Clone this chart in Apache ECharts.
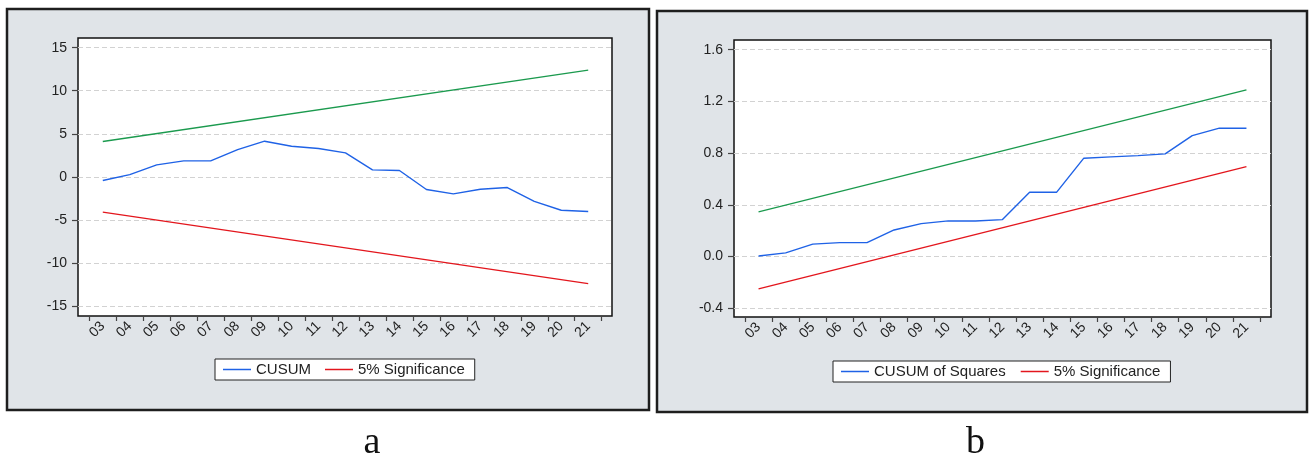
<!DOCTYPE html>
<html>
<head>
<meta charset="utf-8">
<script src="https://cdn.jsdelivr.net/npm/echarts@6/dist/echarts.min.js"></script>
<style>
  body { margin: 0; background: #fff; }
  #chart { width: 1309px; height: 457px; }
</style>
</head>
<body>
<div id="chart"></div>
<script>
// years on the x axis (20xx)
const years = ["03", "04", "05", "06", "07", "08", "09", "10", "11", "12",
  "13", "14", "15", "16", "17", "18", "19", "20", "21"];

// panel a: CUSUM and its 5% bounds (bounds are straight lines, read at both ends)
const cusum = [-0.43, 0.26, 1.39, 1.86, 1.86, 3.17, 4.14, 3.56, 3.29, 2.79,
  0.81, 0.74, -1.47, -1.98, -1.44, -1.24, -2.84, -3.88, -4.03];
const cusumUpper = [4.1, null, null, null, null, null, null, null, null, null,
  null, null, null, null, null, null, null, null, 12.4];
const cusumLower = [-4.1, null, null, null, null, null, null, null, null, null,
  null, null, null, null, null, null, null, null, -12.4];

// panel b: CUSUM of squares and its 5% bounds
const cusumSq = [0.005, 0.029, 0.096, 0.108, 0.108, 0.206, 0.255, 0.276, 0.275, 0.286,
  0.498, 0.498, 0.761, 0.771, 0.781, 0.794, 0.936, 0.993, 0.993];
const sqUpper = [0.346, null, null, null, null, null, null, null, null, null,
  null, null, null, null, null, null, null, null, 1.289];
const sqLower = [-0.25, null, null, null, null, null, null, null, null, null,
  null, null, null, null, null, null, null, null, 0.696];

const BLUE = "#1f62e6";
const GREEN = "#1b9a4e";
const RED = "#e3161d";
const FONT = "Liberation Sans";

const chart = echarts.init(document.getElementById("chart"));

// each panel: one grid for the y axis (full plot width), one inset grid for the data
const panels = [
  { frame: [7, 9, 642, 401], plot: [78, 38, 534, 278], yTop: 47.7, yBottom: 306,
    dataLeft: 89.3, dataRight: 601.7, min: -15, max: 15, interval: 5, decimals: 0 },
  { frame: [657, 11, 650, 401], plot: [734, 40, 537, 277], yTop: 49.7, yBottom: 308.3,
    dataLeft: 745, dataRight: 1260, min: -0.4, max: 1.6, interval: 0.4, decimals: 1 },
];

const grid = [];
const xAxis = [];
const yAxis = [];
const graphic = [];

panels.forEach((p, i) => {
  const [px, py, pw, ph] = p.plot;
  grid.push({ left: px, width: pw, top: p.yTop, height: p.yBottom - p.yTop });
  grid.push({ left: p.dataLeft, width: p.dataRight - p.dataLeft, top: p.yTop, height: p.yBottom - p.yTop });

  xAxis.push({ gridIndex: 2 * i, type: "value", show: false });
  xAxis.push({
    gridIndex: 2 * i + 1,
    type: "category",
    data: years,
    boundaryGap: true,
    position: "bottom",
    offset: py + ph - p.yBottom,
    axisLine: { show: false, onZero: false },
    axisTick: { show: true, length: 5, lineStyle: { color: "#444", width: 1.2 } },
    axisLabel: { rotate: 45, margin: 8, fontSize: 14, color: "#222", fontFamily: FONT, interval: 0 },
    splitLine: { show: false },
  });

  yAxis.push({
    gridIndex: 2 * i,
    type: "value",
    min: p.min,
    max: p.max,
    interval: p.interval,
    axisLine: { show: false },
    axisTick: { show: true, length: 6, lineStyle: { color: "#444", width: 1.2 } },
    axisLabel: {
      margin: 11, fontSize: 14, color: "#222", fontFamily: FONT,
      formatter: (v) => v.toFixed(p.decimals),
    },
    splitLine: { show: true, lineStyle: { color: "#d2d2d2", type: [5, 3], width: 1 } },
  });
  yAxis.push({ gridIndex: 2 * i + 1, type: "value", min: p.min, max: p.max, show: false });

  const [fx, fy, fw, fh] = p.frame;
  graphic.push({
    type: "rect", z: -20, silent: true,
    shape: { x: fx, y: fy, width: fw, height: fh },
    style: { fill: "#e0e4e8", stroke: "#1e1e1e", lineWidth: 2.5 },
  });
  graphic.push({
    type: "rect", z: -10, silent: true,
    shape: { x: px, y: py, width: pw, height: ph },
    style: { fill: "#fff", stroke: "#111", lineWidth: 1.5 },
  });
});

graphic.push({
  type: "text", left: 373.5 - 10, top: 424, silent: true,
  style: { text: "a", font: '38px "Liberation Serif"', fill: "#111" },
});
graphic.push({
  type: "text", left: 976 - 10, top: 424, silent: true,
  style: { text: "b", font: '38px "Liberation Serif"', fill: "#111" },
});

function line(name, data, color, idx) {
  return {
    name, type: "line", data,
    xAxisIndex: idx, yAxisIndex: idx,
    symbol: "none", connectNulls: true, animation: false,
    itemStyle: { color },
    lineStyle: { color, width: 1.4 },
  };
}

const legendBase = {
  icon: "rect",
  itemWidth: 28,
  itemHeight: 1.5,
  padding: [3, 10, 3, 8],
  backgroundColor: "#fff",
  borderColor: "#222",
  borderWidth: 1,
  borderRadius: 0,
  selectedMode: false,
  textStyle: { fontSize: 15, color: "#222", fontFamily: FONT },
};

const options = {
  animation: false,
  backgroundColor: "#fff",
  grid,
  xAxis,
  yAxis,
  graphic,
  legend: [
    Object.assign({}, legendBase, { left: 215, top: 359, itemGap: 14, data: ["CUSUM", "5% Significance"] }),
    Object.assign({}, legendBase, { left: 833, top: 361, itemGap: 15, data: ["CUSUM of Squares", "5% Significance"] }),
  ],
  series: [
    line("CUSUM", cusum, BLUE, 1),
    line("Upper bound a", cusumUpper, GREEN, 1),
    line("5% Significance", cusumLower, RED, 1),
    line("CUSUM of Squares", cusumSq, BLUE, 3),
    line("Upper bound b", sqUpper, GREEN, 3),
    line("5% Significance", sqLower, RED, 3),
  ],
};

chart.setOption(options);
</script>
</body>
</html>
